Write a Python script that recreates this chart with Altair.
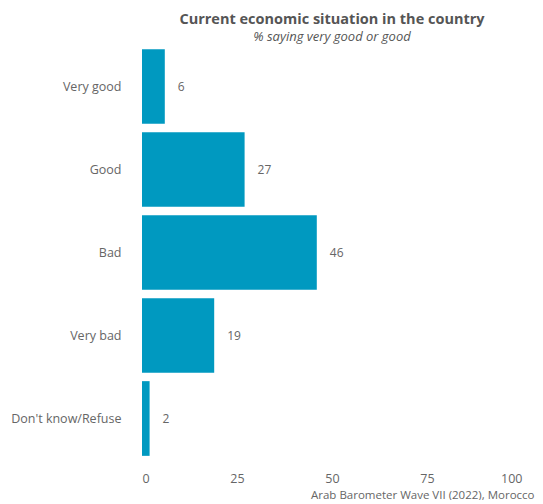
import altair as alt
import pandas as pd

categories = ["Very good", "Good", "Bad", "Very bad", "Don't know/Refuse"]
values = [6, 27, 46, 19, 2]

df = pd.DataFrame({"category": categories, "value": values})

FONT = "Open Sans"
GRAY = "#666666"

y_enc = alt.Y("category:N", sort=categories, title=None,
              scale=alt.Scale(paddingInner=0.1, paddingOuter=0.05),
              axis=alt.Axis(ticks=False, domain=False, labelPadding=21,
                            labelFontSize=12.5, labelColor=GRAY, labelFont=FONT))
x_enc = alt.X("value:Q", scale=alt.Scale(domain=[0, 100]),
              title="Arab Barometer Wave VII (2022), Morocco",
              axis=alt.Axis(values=[0, 25, 50, 75, 100], ticks=False, domain=False,
                            grid=False, labelPadding=12, labelFontSize=12.5,
                            labelColor=GRAY, labelFont=FONT,
                            titleFont=FONT, titleFontSize=11.5, titleFontWeight="normal",
                            titleColor=GRAY, titleAlign="right", titleAnchor="end",
                            titleBaseline="top", titleX=392, titleY=29))

bars = alt.Chart(df).mark_bar(color="#0099c0").encode(x=x_enc, y=y_enc)
labels = alt.Chart(df).mark_text(align="left", dx=13, fontSize=12, color=GRAY, font=FONT).encode(
    x="value:Q", y=alt.Y("category:N", sort=categories), text="value:Q")

chart = (bars + labels).properties(
    width=380, height=415,
    autosize=alt.AutoSizeParams(type="none"),
    padding={"left": 134, "top": 37, "right": 13, "bottom": 40},
    title=alt.TitleParams(
        text="Current economic situation in the country",
        subtitle="% saying very good or good",
        font=FONT, fontSize=14.5, fontWeight="bold", color="#555555",
        subtitleFont=FONT, subtitleFontSize=13, subtitleFontStyle="italic",
        subtitleColor="#555555", anchor="middle", offset=0, subtitlePadding=4,
    ),
).configure_view(stroke=None)

chart.save("out.html", embed_options={"renderer": "svg", "actions": False})
